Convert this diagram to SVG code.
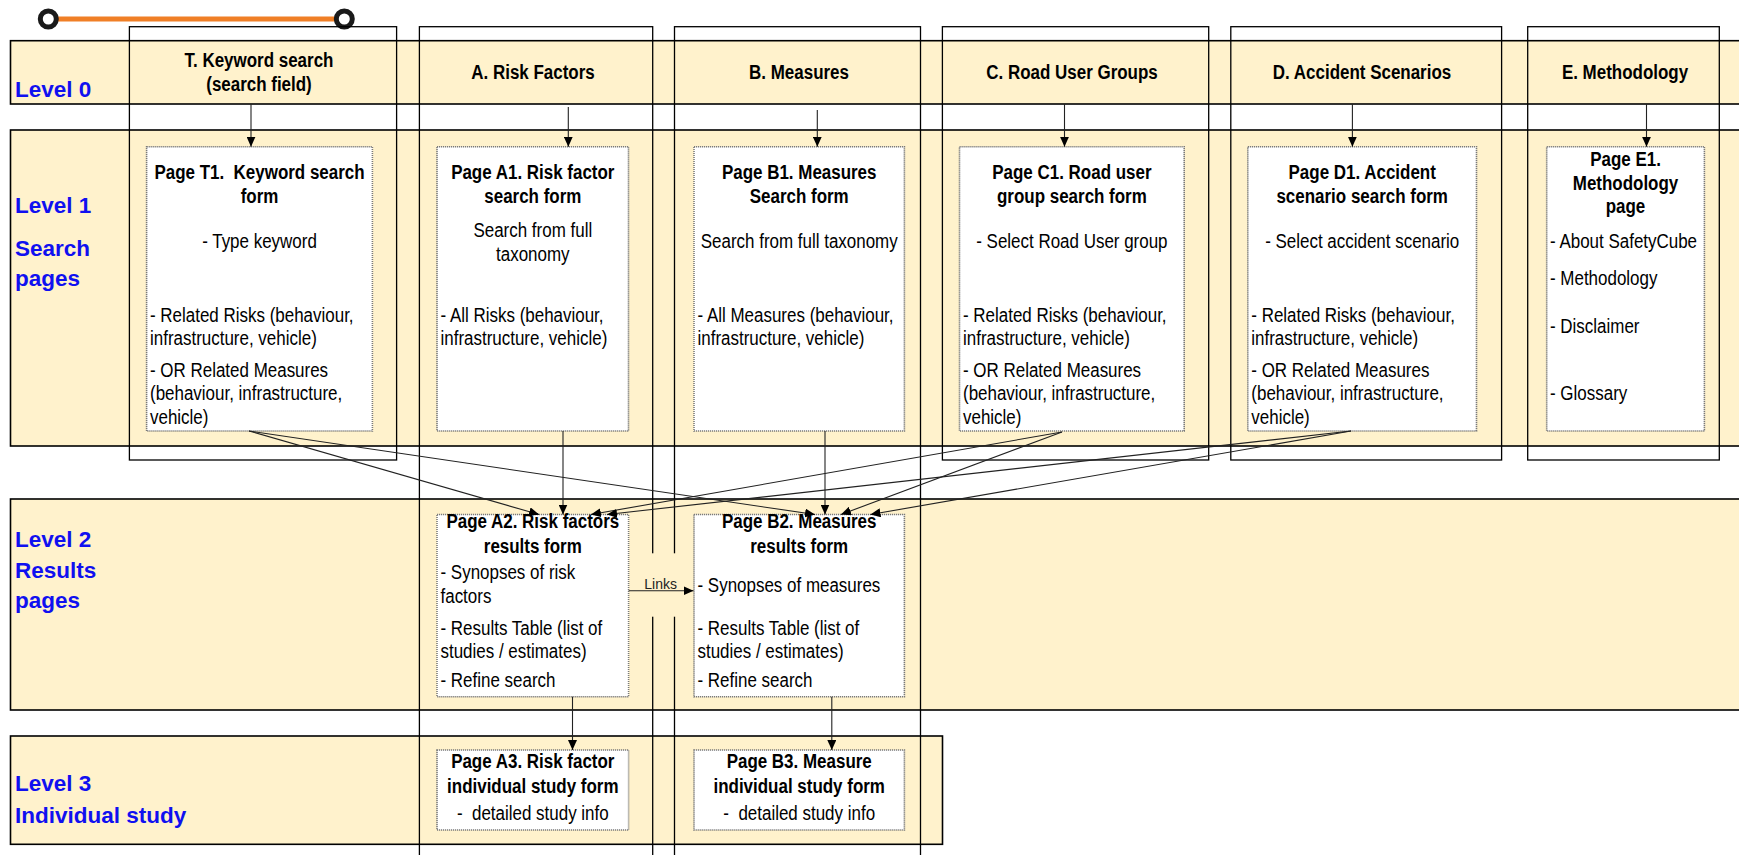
<svg xmlns="http://www.w3.org/2000/svg" width="1739" height="855" viewBox="0 0 1739 855">
<style>
.band{fill:#FFF2CC;stroke:#000;stroke-width:1.6}
.col{fill:none;stroke:#000;stroke-width:1.3}
.box{fill:#fff;stroke:#7a7a7a;stroke-width:1.6;stroke-dasharray:1.2 0.8}
.lvl{font-family:"Liberation Sans",Arial,sans-serif;font-weight:bold;font-size:22.5px;fill:#1010F0}
.t{font-family:"Liberation Sans",Arial,sans-serif;font-size:19.5px;fill:#000}
.c{text-anchor:middle}
.b{font-weight:bold}
.conn{stroke:#222;stroke-width:1.1;fill:none;marker-end:url(#ah)}
.lnk{font-family:"Liberation Sans",Arial,sans-serif;font-size:14px;fill:#222}
</style>
<defs>
<marker id="ah" markerUnits="userSpaceOnUse" markerWidth="10" markerHeight="9" refX="10" refY="4.5" orient="auto">
<path d="M0,0 L10,4.5 L0,9 z" fill="#000"/>
</marker>
</defs>
<rect width="1739" height="855" fill="#fff"/>

<g id="legend-line">
<line x1="48.3" y1="19" x2="344.3" y2="19" stroke="#F07F26" stroke-width="5"/>
<circle cx="48.3" cy="19" r="8" fill="#fff" stroke="#1a1a1a" stroke-width="5"/>
<circle cx="344.3" cy="19" r="8" fill="#fff" stroke="#1a1a1a" stroke-width="5"/>
</g>

<g id="bands">
<rect class="band" x="10.5" y="40.7" width="1740" height="63.3"/>
<rect class="band" x="10.5" y="130" width="1740" height="316"/>
<rect class="band" x="10.5" y="499" width="1740" height="211"/>
<rect class="band" x="10.5" y="736" width="932" height="108.3"/>
<text class="lvl" x="15" y="96.5">Level 0</text>
<text class="lvl" x="15" y="212.7">Level 1</text>
<text class="lvl" x="15" y="256">Search</text>
<text class="lvl" x="15" y="285.5">pages</text>
<text class="lvl" x="15" y="546.7">Level 2</text>
<text class="lvl" x="15" y="577.7">Results</text>
<text class="lvl" x="15" y="608.3">pages</text>
<text class="lvl" x="15" y="791">Level 3</text>
<text class="lvl" x="15" y="823.3">Individual study</text>
</g>

<g id="columns">
<rect class="col" x="129.4" y="26.7" width="267.2" height="433.3"/>
<rect class="col" x="419.4" y="26.7" width="233.3" height="850"/>
<rect class="col" x="674.5" y="26.7" width="246" height="850"/>
<rect class="col" x="942.4" y="26.7" width="266.3" height="433.3"/>
<rect class="col" x="1230.8" y="26.7" width="270.8" height="433.3"/>
<rect class="col" x="1527.7" y="26.7" width="191.6" height="433.3"/>
<rect x="645" y="553.3" width="36" height="63.4" fill="#FFF2CC"/>
</g>

<g id="col-T">
<text class="t c b" transform="translate(259,67) scale(.87 1)">T. Keyword search</text>
<text class="t c b" transform="translate(259,91) scale(.87 1)">(search field)</text>
</g>
<g id="col-A"><text class="t c b" transform="translate(533,79.3) scale(.87 1)">A. Risk Factors</text></g>
<g id="col-B"><text class="t c b" transform="translate(799,79.3) scale(.87 1)">B. Measures</text></g>
<g id="col-C"><text class="t c b" transform="translate(1072,79.3) scale(.87 1)">C. Road User Groups</text></g>
<g id="col-D"><text class="t c b" transform="translate(1362,79.3) scale(.87 1)">D. Accident Scenarios</text></g>
<g id="col-E"><text class="t c b" transform="translate(1625,79.3) scale(.87 1)">E. Methodology</text></g>

<g id="T1">
<rect class="box" x="146.6" y="146.7" width="225.8" height="284.3"/>
<text class="t c b" transform="translate(259.5,179) scale(.87 1)">Page T1.&#160; Keyword search</text>
<text class="t c b" transform="translate(259.5,202.7) scale(.87 1)">form</text>
<text class="t c" transform="translate(259.5,248) scale(.87 1)">- Type keyword</text>
<text class="t" transform="translate(150,321.7) scale(.87 1)">- Related Risks (behaviour,</text>
<text class="t" transform="translate(150,345) scale(.87 1)">infrastructure, vehicle)</text>
<text class="t" transform="translate(150,376.7) scale(.87 1)">- OR Related Measures</text>
<text class="t" transform="translate(150,400) scale(.87 1)">(behaviour, infrastructure,</text>
<text class="t" transform="translate(150,424) scale(.87 1)">vehicle)</text>
</g>

<g id="A1">
<rect class="box" x="437" y="146.7" width="191.5" height="284.3"/>
<text class="t c b" transform="translate(532.8,179) scale(.87 1)">Page A1. Risk factor</text>
<text class="t c b" transform="translate(532.8,202.7) scale(.87 1)">search form</text>
<text class="t c" transform="translate(532.8,236.5) scale(.87 1)">Search from full</text>
<text class="t c" transform="translate(532.8,260.5) scale(.87 1)">taxonomy</text>
<text class="t" transform="translate(440.5,321.7) scale(.87 1)">- All Risks (behaviour,</text>
<text class="t" transform="translate(440.5,345) scale(.87 1)">infrastructure, vehicle)</text>
</g>

<g id="B1">
<rect class="box" x="694" y="146.7" width="210.4" height="284.3"/>
<text class="t c b" transform="translate(799.2,179) scale(.87 1)">Page B1. Measures</text>
<text class="t c b" transform="translate(799.2,202.7) scale(.87 1)">Search form</text>
<text class="t c" transform="translate(799.2,248) scale(.87 1)">Search from full taxonomy</text>
<text class="t" transform="translate(697.5,321.7) scale(.87 1)">- All Measures (behaviour,</text>
<text class="t" transform="translate(697.5,345) scale(.87 1)">infrastructure, vehicle)</text>
</g>

<g id="C1">
<rect class="box" x="959.5" y="146.7" width="224.7" height="284.3"/>
<text class="t c b" transform="translate(1071.9,179) scale(.87 1)">Page C1. Road user</text>
<text class="t c b" transform="translate(1071.9,202.7) scale(.87 1)">group search form</text>
<text class="t c" transform="translate(1071.9,248) scale(.87 1)">- Select Road User group</text>
<text class="t" transform="translate(963,321.7) scale(.87 1)">- Related Risks (behaviour,</text>
<text class="t" transform="translate(963,345) scale(.87 1)">infrastructure, vehicle)</text>
<text class="t" transform="translate(963,376.7) scale(.87 1)">- OR Related Measures</text>
<text class="t" transform="translate(963,400) scale(.87 1)">(behaviour, infrastructure,</text>
<text class="t" transform="translate(963,424) scale(.87 1)">vehicle)</text>
</g>

<g id="D1">
<rect class="box" x="1247.8" y="146.7" width="228.7" height="284.3"/>
<text class="t c b" transform="translate(1362.2,179) scale(.87 1)">Page D1. Accident</text>
<text class="t c b" transform="translate(1362.2,202.7) scale(.87 1)">scenario search form</text>
<text class="t c" transform="translate(1362.2,248) scale(.87 1)">- Select accident scenario</text>
<text class="t" transform="translate(1251.3,321.7) scale(.87 1)">- Related Risks (behaviour,</text>
<text class="t" transform="translate(1251.3,345) scale(.87 1)">infrastructure, vehicle)</text>
<text class="t" transform="translate(1251.3,376.7) scale(.87 1)">- OR Related Measures</text>
<text class="t" transform="translate(1251.3,400) scale(.87 1)">(behaviour, infrastructure,</text>
<text class="t" transform="translate(1251.3,424) scale(.87 1)">vehicle)</text>
</g>

<g id="E1">
<rect class="box" x="1546.7" y="146.7" width="157.7" height="284.3"/>
<text class="t c b" transform="translate(1625.5,165.7) scale(.87 1)">Page E1.</text>
<text class="t c b" transform="translate(1625.5,190) scale(.87 1)">Methodology</text>
<text class="t c b" transform="translate(1625.5,213.3) scale(.87 1)">page</text>
<text class="t" transform="translate(1550,248.3) scale(.87 1)">- About SafetyCube</text>
<text class="t" transform="translate(1550,285) scale(.87 1)">- Methodology</text>
<text class="t" transform="translate(1550,333.3) scale(.87 1)">- Disclaimer</text>
<text class="t" transform="translate(1550,400) scale(.87 1)">- Glossary</text>
</g>

<g id="A2">
<rect class="box" x="437" y="514.5" width="191.6" height="182.2"/>
<text class="t c b" transform="translate(532.8,528.3) scale(.87 1)">Page A2. Risk factors</text>
<text class="t c b" transform="translate(532.8,552.7) scale(.87 1)">results form</text>
<text class="t" transform="translate(440.5,579.3) scale(.87 1)">- Synopses of risk</text>
<text class="t" transform="translate(440.5,603.3) scale(.87 1)">factors</text>
<text class="t" transform="translate(440.5,635) scale(.87 1)">- Results Table (list of</text>
<text class="t" transform="translate(440.5,658.3) scale(.87 1)">studies / estimates)</text>
<text class="t" transform="translate(440.5,686.7) scale(.87 1)">- Refine search</text>
</g>

<g id="B2">
<rect class="box" x="694" y="514.5" width="210.4" height="182.2"/>
<text class="t c b" transform="translate(799.2,528.3) scale(.87 1)">Page B2. Measures</text>
<text class="t c b" transform="translate(799.2,552.7) scale(.87 1)">results form</text>
<text class="t" transform="translate(697.5,591.7) scale(.87 1)">- Synopses of measures</text>
<text class="t" transform="translate(697.5,635) scale(.87 1)">- Results Table (list of</text>
<text class="t" transform="translate(697.5,658.3) scale(.87 1)">studies / estimates)</text>
<text class="t" transform="translate(697.5,686.7) scale(.87 1)">- Refine search</text>
</g>

<g id="A3">
<rect class="box" x="437" y="750" width="191.6" height="80"/>
<text class="t c b" transform="translate(532.8,768.3) scale(.87 1)">Page A3. Risk factor</text>
<text class="t c b" transform="translate(532.8,793.3) scale(.87 1)">individual study form</text>
<text class="t c" transform="translate(532.8,820) scale(.87 1)">-&#160; detailed study info</text>
</g>

<g id="B3">
<rect class="box" x="694" y="750" width="210.4" height="80"/>
<text class="t c b" transform="translate(799.2,768.3) scale(.87 1)">Page B3. Measure</text>
<text class="t c b" transform="translate(799.2,793.3) scale(.87 1)">individual study form</text>
<text class="t c" transform="translate(799.2,820) scale(.87 1)">-&#160; detailed study info</text>
</g>

<g id="connectors">
<line class="conn" x1="251" y1="104" x2="251" y2="146.7"/>
<line class="conn" x1="568.3" y1="107" x2="568.3" y2="146.7"/>
<line class="conn" x1="817.3" y1="110" x2="817.3" y2="146.7"/>
<line class="conn" x1="1064.5" y1="104" x2="1064.5" y2="146.7"/>
<line class="conn" x1="1352.4" y1="104" x2="1352.4" y2="146.7"/>
<line class="conn" x1="1646.5" y1="104" x2="1646.5" y2="146.7"/>
<line class="conn" x1="249" y1="431" x2="539" y2="514.5"/>
<line class="conn" x1="249" y1="431" x2="815" y2="514.5"/>
<line class="conn" x1="563" y1="431" x2="563" y2="514.5"/>
<line class="conn" x1="825" y1="431" x2="825" y2="514.5"/>
<line class="conn" x1="1062" y1="432" x2="591" y2="514.5"/>
<line class="conn" x1="1062" y1="432" x2="841" y2="514.5"/>
<line class="conn" x1="1351" y1="431" x2="607" y2="514.5"/>
<line class="conn" x1="1351" y1="431" x2="870.5" y2="514.5"/>
<line class="conn" x1="628.6" y1="590.7" x2="693.5" y2="590.7"/>
<line class="conn" x1="572.5" y1="696.7" x2="572.5" y2="750"/>
<line class="conn" x1="831.8" y1="696.7" x2="831.8" y2="750"/>
<text class="lnk" x="644.3" y="589.3">Links</text>
</g>
</svg>
